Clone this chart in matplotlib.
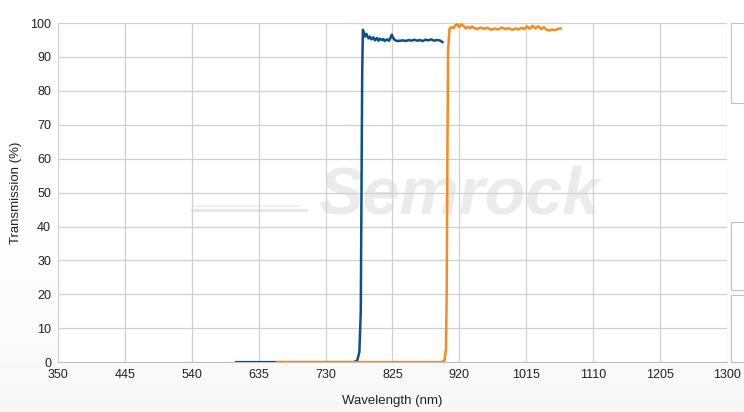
import numpy as np
import matplotlib.pyplot as plt
from matplotlib.patches import Rectangle

plt.rcParams['font.family'] = ['Liberation Sans', 'DejaVu Sans']

# blue filter
blue_wl = [603, 700, 770, 775, 778, 780, 781, 782, 783, 786, 788, 791, 793, 795, 798, 800,
           803, 805, 807, 810, 812, 814, 817, 820, 822, 824, 826, 829, 832, 836, 840, 844,
           848, 852, 856, 860, 864, 868, 872, 876, 880, 884, 888, 892, 896]
blue_t = [0, 0, 0, 0.5, 3, 15, 50, 85, 98, 96.0, 96.8, 95.5, 96.0, 95.2, 95.8, 94.9,
          95.6, 94.8, 95.4, 95.0, 95.3, 94.7, 95.2, 94.8, 95.5, 96.6, 95.6, 94.9, 94.7, 94.8, 94.9, 94.7,
          95.0, 94.8, 95.1, 94.8, 95.0, 94.7, 95.1, 94.9, 95.2, 94.8, 95.0, 94.9, 94.4]

# orange filter
orange_wl = [661, 800, 895, 899, 901, 902, 903, 904, 906, 909, 912, 914, 917, 920, 923, 926,
             929, 932, 935, 938, 941, 945, 950, 955, 960, 965, 970, 975, 980, 985, 990, 995,
             1000, 1004, 1008, 1012, 1016, 1020, 1024, 1028, 1032, 1036, 1040, 1044, 1048,
             1052, 1056, 1060, 1064]
orange_t = [0, 0, 0, 0.5, 4, 20, 60, 92, 98.3, 98.8, 98.5, 99.3, 99.7, 98.8, 99.6, 99.2,
            98.4, 98.9, 98.5, 99.0, 98.6, 98.2, 98.7, 98.3, 98.6, 98.0, 98.4, 98.1, 98.7, 98.2, 98.5, 98.0,
            98.4, 98.1, 98.6, 98.2, 99.0, 98.3, 99.2, 98.4, 99.1, 98.2, 98.8, 98.0, 97.8,
            98.1, 97.9, 98.3, 98.4]

x_ticks = [350, 445, 540, 635, 730, 825, 920, 1015, 1110, 1205, 1300]
y_ticks = [0, 10, 20, 30, 40, 50, 60, 70, 80, 90, 100]

fig = plt.figure(figsize=(7.44, 4.12), dpi=100)

# light gray background gradient
bg = fig.add_axes([0, 0, 1, 1], zorder=-10)
grad = np.linspace(0, 1, 200)
g = np.outer(grad ** 3, np.ones(10))
bg.imshow(g, cmap='Greys', vmin=0, vmax=16, aspect='auto', extent=[0, 1, 0, 1], origin='upper')
bg.axis('off')

ax = fig.add_axes([0.078, 0.121, 0.899, 0.823])
ax.set_facecolor('white')

# side boxes on the right
for y0, y1 in [(23, 103), (222, 290), (295, 362)]:
    fig.patches.append(Rectangle((731 / 744, 1 - y1 / 412), 0.03, (y1 - y0) / 412,
                                 transform=fig.transFigure, facecolor='white',
                                 edgecolor='#c0c0c0', lw=0.8))

# watermark
ax.text(0.6, 0.49, 'Semrock', transform=ax.transAxes, fontsize=48, fontweight='bold',
        fontstyle='italic', color='#ebebeb', ha='center', va='center', zorder=0.3)
ax.plot([0.2, 0.37], [0.448, 0.448], transform=ax.transAxes, color='#e8e8e8', lw=2.2, zorder=0.3)
ax.plot([0.2, 0.36], [0.46, 0.46], transform=ax.transAxes, color='#eeeeee', lw=1.2, zorder=0.3)

ax.plot(blue_wl, blue_t, color='#0b5188', lw=1.8, zorder=3)
ax.plot(orange_wl, orange_t, color='#f68b1f', lw=1.8, zorder=3)

ax.set_xlim(350, 1300)
ax.set_ylim(0, 100)
ax.set_xticks(x_ticks)
ax.set_yticks(y_ticks)
ax.grid(True, color='#d0d0d0', lw=0.9)
ax.set_axisbelow(True)
for s in ['top', 'right', 'left']:
    ax.spines[s].set_visible(False)
ax.spines['bottom'].set_color('#c0c0c0')
ax.tick_params(length=0, labelsize=9, colors='#222222', pad=5)
ax.set_xlabel('Wavelength (nm)', fontsize=9.5, color='#222222', labelpad=10)
ax.set_ylabel('Transmission (%)', fontsize=9.5, color='#222222', labelpad=6)

fig.savefig('out.png', dpi=100)
